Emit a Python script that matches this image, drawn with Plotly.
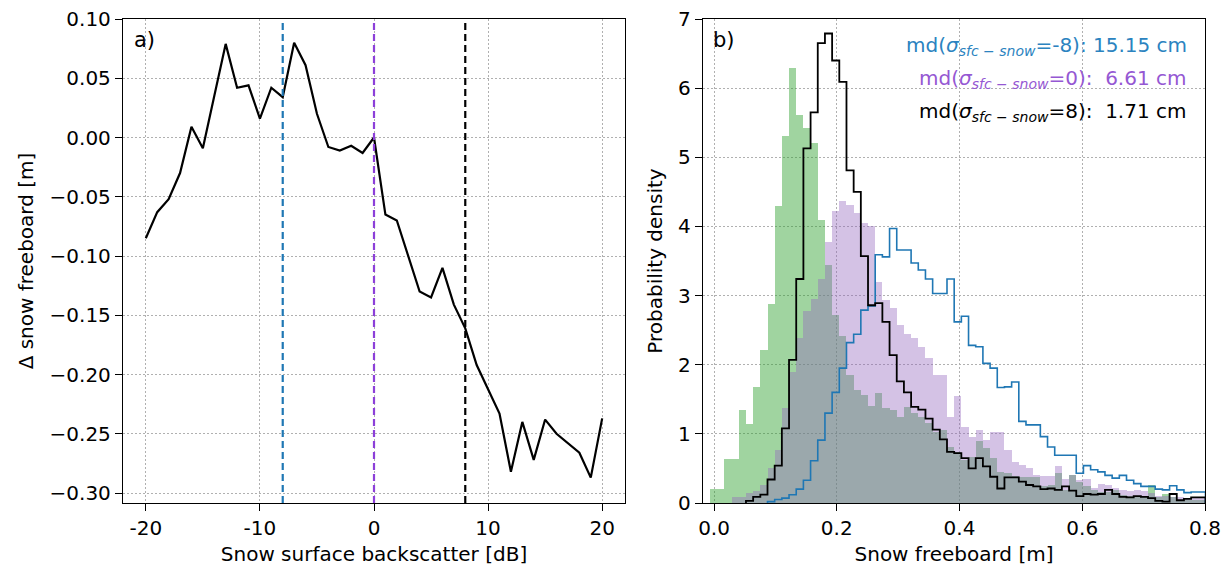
import numpy as np
import plotly.graph_objects as go

# ---------------- data: panel a) ----------------
BACKSCATTER_DB = [-20, -19, -18, -17, -16, -15, -14, -13, -12, -11, -10, -9, -8, -7, -6, -5, -4, -3, -2, -1,
                  0, 1, 2, 3, 4, 5, 6, 7, 8, 9, 10, 11, 12, 13, 14, 15, 16, 17, 18, 19, 20]
DELTA_FREEBOARD = [-0.085, -0.063, -0.052, -0.030, 0.009, -0.009, 0.035, 0.079, 0.042, 0.044,
                   0.016, 0.042, 0.034, 0.080, 0.061, 0.020, -0.008, -0.011, -0.007, -0.013,
                   0.000, -0.065, -0.070, -0.100, -0.130, -0.135, -0.110, -0.141, -0.161, -0.192,
                   -0.213, -0.233, -0.282, -0.240, -0.272, -0.238, -0.250, -0.258, -0.266, -0.287,
                   -0.237]
VLINE_DB = [-8, 0, 8]
VLINE_COLORS = ["#1f77b4", "#8c3fd9", "#000000"]

# ---------------- data: panel b) ----------------
BIN_START = -0.0065
BIN_WIDTH = 0.0117
GREEN_HIST = [0.20, 0.20, 0.63, 0.63, 1.35, 1.14, 1.68, 2.22, 2.88, 4.29,
              5.31, 6.29, 5.61, 5.43, 5.20, 4.09, 3.44, 2.72, 2.42, 1.85,
              1.63, 1.56, 1.40, 1.59, 1.37, 1.35, 1.25, 1.39, 1.30, 1.25,
              1.15, 1.03, 1.06, 0.81, 0.74, 0.62, 0.67, 0.89, 0.79, 0.65,
              0.45, 0.43, 0.39, 0.37, 0.37, 0.37, 0.24, 0.26, 0.44, 0.19,
              0.40, 0.31, 0.24, 0.19, 0.16, 0.16, 0.19, 0.12, 0.10, 0.09,
              0.09, 0.26, 0.09, 0.13, 0.09, 0.04, 0.04, 0.05, 0.05]
PURPLE_HIST = [0.00, 0.00, 0.00, 0.08, 0.08, 0.15, 0.18, 0.26, 0.50, 0.77,
               1.37, 1.90, 2.38, 2.77, 2.95, 3.24, 3.78, 4.23, 4.37, 4.31,
               4.19, 4.05, 4.00, 3.20, 2.93, 2.82, 2.57, 2.44, 2.39, 2.26,
               2.09, 1.85, 1.85, 1.25, 1.55, 1.10, 0.96, 1.06, 0.91, 1.03,
               1.03, 0.77, 0.60, 0.55, 0.50, 0.40, 0.39, 0.39, 0.53, 0.34,
               0.40, 0.33, 0.34, 0.22, 0.28, 0.26, 0.21, 0.19, 0.17, 0.19,
               0.17, 0.14, 0.10, 0.10, 0.08, 0.08, 0.07, 0.09, 0.09]
BLUE_HIST = [0.00, 0.00, 0.00, 0.00, 0.00, 0.00, 0.00, 0.00, 0.02, 0.05,
             0.07, 0.12, 0.20, 0.33, 0.61, 0.91, 1.30, 1.60, 1.95, 2.32,
             2.44, 2.79, 2.85, 3.59, 3.56, 3.97, 3.66, 3.66, 3.47, 3.37,
             3.24, 3.03, 3.03, 3.24, 2.62, 2.70, 2.28, 2.26, 2.02, 1.95,
             1.67, 1.68, 1.75, 1.18, 1.13, 1.13, 0.96, 0.81, 0.69, 0.69,
             0.69, 0.43, 0.54, 0.48, 0.45, 0.40, 0.36, 0.40, 0.33, 0.28,
             0.24, 0.24, 0.20, 0.19, 0.25, 0.19, 0.15, 0.16, 0.16]
BLACK_HIST = [0.00, 0.00, 0.00, 0.00, 0.00, 0.03, 0.09, 0.12, 0.34, 0.54,
              1.08, 2.07, 3.24, 5.13, 5.65, 6.65, 6.79, 6.40, 6.09, 4.81,
              4.50, 3.57, 2.86, 2.89, 2.62, 2.14, 1.76, 1.60, 1.39, 1.35,
              1.22, 1.06, 0.92, 0.74, 0.72, 0.65, 0.50, 0.65, 0.53, 0.38,
              0.21, 0.37, 0.37, 0.31, 0.26, 0.24, 0.20, 0.21, 0.19, 0.24,
              0.18, 0.10, 0.13, 0.12, 0.13, 0.19, 0.13, 0.09, 0.08, 0.10,
              0.09, 0.07, 0.03, 0.02, 0.13, 0.04, 0.06, 0.08, 0.08]

MD_LABELS = ["-8", "0", "8"]
MD_VALUES = ["15.15 cm", "6.61 cm", "1.71 cm"]
MD_GAPS = [" ", "\u00a0 ", "\u00a0 "]
MD_COLORS = ["#2b83c0", "#9558d3", "#000000"]

# ---------------- figure ----------------
W, H = 1223, 567
FONT = "DejaVu Sans"
FS_TICK = 20
FS_TITLE = 20

n_bins = len(GREEN_HIST)
edges = BIN_START + BIN_WIDTH * np.arange(n_bins + 1)
centers = 0.5 * (edges[:-1] + edges[1:])


def step_xy(h):
    h = list(h)
    first = next(i for i, v in enumerate(h) if v > 0)
    xs = [edges[first]] + list(edges[first:n_bins]) + [edges[n_bins], edges[n_bins]]
    ys = [0] + h[first:] + [h[-1], 0]
    return xs, ys


fig = go.Figure()

fig.add_trace(go.Scatter(x=BACKSCATTER_DB, y=DELTA_FREEBOARD, mode="lines",
                         line=dict(color="black", width=2.2), xaxis="x", yaxis="y",
                         showlegend=False))

for xv, col in zip(VLINE_DB, VLINE_COLORS):
    fig.add_shape(type="line", xref="x", yref="y domain", x0=xv, x1=xv, y0=0, y1=1,
                  line=dict(color=col, width=2.2, dash="7px,4px"), layer="above")

fig.add_trace(go.Bar(x=centers, y=GREEN_HIST, width=BIN_WIDTH,
                     marker=dict(color="rgba(44,160,44,0.45)", line=dict(width=0)),
                     xaxis="x2", yaxis="y2", showlegend=False))
fig.add_trace(go.Bar(x=centers, y=PURPLE_HIST, width=BIN_WIDTH,
                     marker=dict(color="rgba(148,103,189,0.40)", line=dict(width=0)),
                     xaxis="x2", yaxis="y2", showlegend=False))
bx, by = step_xy(BLUE_HIST)
fig.add_trace(go.Scatter(x=bx, y=by, mode="lines", line=dict(color="#1f77b4", width=1.6, shape="hv"),
                         xaxis="x2", yaxis="y2", showlegend=False))
kx, ky = step_xy(BLACK_HIST)
fig.add_trace(go.Scatter(x=kx, y=ky, mode="lines", line=dict(color="black", width=1.8, shape="hv"),
                         xaxis="x2", yaxis="y2", showlegend=False))

axis_common = dict(showline=True, linecolor="black", linewidth=1.3, mirror=True,
                   ticks="outside", ticklen=7, tickwidth=1.3, tickcolor="black",
                   showgrid=True, gridcolor="#b0b0b0", gridwidth=1.2, griddash="1.5px,2.5px",
                   zeroline=False, automargin=False,
                   tickfont=dict(family=FONT, size=FS_TICK, color="black"),
                   title_font=dict(family=FONT, size=FS_TITLE, color="black"))

top_px, bot_px = 19, 503
ydom = [1 - bot_px / H, 1 - top_px / H]

fig.update_layout(
    width=W, height=H, margin=dict(l=0, r=0, t=0, b=0, pad=0, autoexpand=False),
    paper_bgcolor="white", plot_bgcolor="white",
    font=dict(family=FONT, size=FS_TICK, color="black"),
    barmode="overlay", bargap=0, showlegend=False,
    xaxis=dict(domain=[123 / W, 625 / W], range=[-22, 22], anchor="y",
               tickvals=[-20, -10, 0, 10, 20], ticktext=["-20", "-10", "0", "10", "20"],
               title=dict(text="Snow surface backscatter [dB]", standoff=7), **axis_common),
    yaxis=dict(domain=ydom, range=[-0.3084, 0.1], anchor="x",
               tickvals=[0.10, 0.05, 0.0, -0.05, -0.10, -0.15, -0.20, -0.25, -0.30],
               tickformat=".2f",
               title=dict(text="Δ snow freeboard [m]", standoff=10), **axis_common),
    xaxis2=dict(domain=[703 / W, 1205 / W], range=[-0.018, 0.8], anchor="y2",
                tickvals=[0.0, 0.2, 0.4, 0.6, 0.8], tickformat=".1f",
                title=dict(text="Snow freeboard [m]", standoff=7), **axis_common),
    yaxis2=dict(domain=ydom, range=[0, 7], anchor="x2",
                tickvals=[0, 1, 2, 3, 4, 5, 6, 7],
                title=dict(text="Probability density", standoff=10), **axis_common),
)

fig.add_annotation(text="a)", xref="paper", yref="paper", x=132 / W, y=1 - 40 / H,
                   xanchor="left", yanchor="middle", showarrow=False,
                   font=dict(family=FONT, size=FS_TITLE + 1, color="black"))
fig.add_annotation(text="b)", xref="paper", yref="paper", x=711 / W, y=1 - 40 / H,
                   xanchor="left", yanchor="middle", showarrow=False,
                   font=dict(family=FONT, size=FS_TITLE + 1, color="black"))

ys_px = [46, 79, 112]
for lab, gap, val, col, ypx in zip(MD_LABELS, MD_GAPS, MD_VALUES, MD_COLORS, ys_px):
    txt = "md(<i>σ</i><sub><i>sfc − snow</i></sub>=" + lab + "):" + gap + val
    fig.add_annotation(text=txt, xref="paper", yref="paper", x=1189 / W, y=1 - ypx / H,
                       xanchor="right", yanchor="middle", showarrow=False,
                       font=dict(family=FONT, size=FS_TITLE, color=col))

fig.write_html("out.html")
